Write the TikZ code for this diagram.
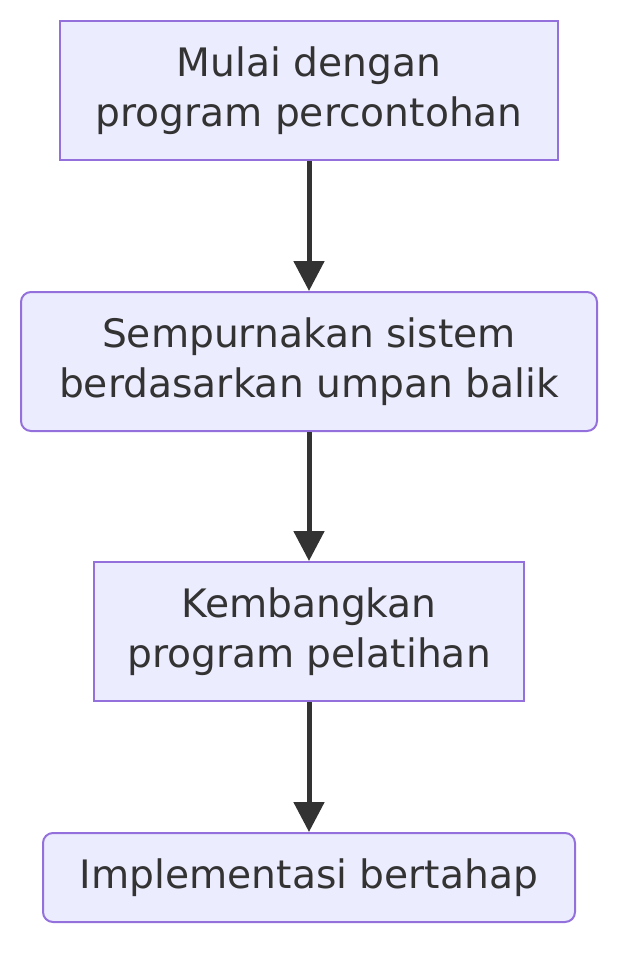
\documentclass[tikz,border=0pt]{standalone}
\usepackage{fontspec}
\setmainfont{DejaVu Sans}
\usetikzlibrary{arrows.meta}
\definecolor{boxfill}{HTML}{ECECFF}
\definecolor{boxline}{HTML}{9370DB}
\definecolor{arrowcol}{HTML}{333333}
\begin{document}
\begin{tikzpicture}[x=1pt,y=-1pt,
    stepbox/.style = {draw=boxline,fill=boxfill,line width=2pt,inner sep=0pt,
        align=center,text=arrowcol,font=\fontsize{39.2}{50}\selectfont},
    roundbox/.style = {stepbox,rounded corners=10pt},
    arrow/.style = {line width=5pt,draw=arrowcol,-{Triangle[length=30pt,width=30pt]}}]
                \useasboundingbox (0,0) rectangle (640,974);

                \node[stepbox,minimum width=498pt,minimum height=139pt]
                    (start) at (309,90.5) {Mulai dengan\\program percontohan};
                \node[roundbox,minimum width=576pt,minimum height=139pt]
                    (refine) at (309,361.5) {Sempurnakan sistem\\berdasarkan umpan balik};
                \node[stepbox,minimum width=430pt,minimum height=139pt]
                    (develop) at (309,631.5) {Kembangkan\\program pelatihan};
                \node[roundbox,minimum width=532pt,minimum height=89pt]
                    (deploy) at (309,877.5) {Implementasi bertahap};

                \draw[arrow] (start) -- (refine);
                \draw[arrow] (refine) -- (develop);
                \draw[arrow] (develop) -- (deploy);
            \end{tikzpicture}
\end{document}
